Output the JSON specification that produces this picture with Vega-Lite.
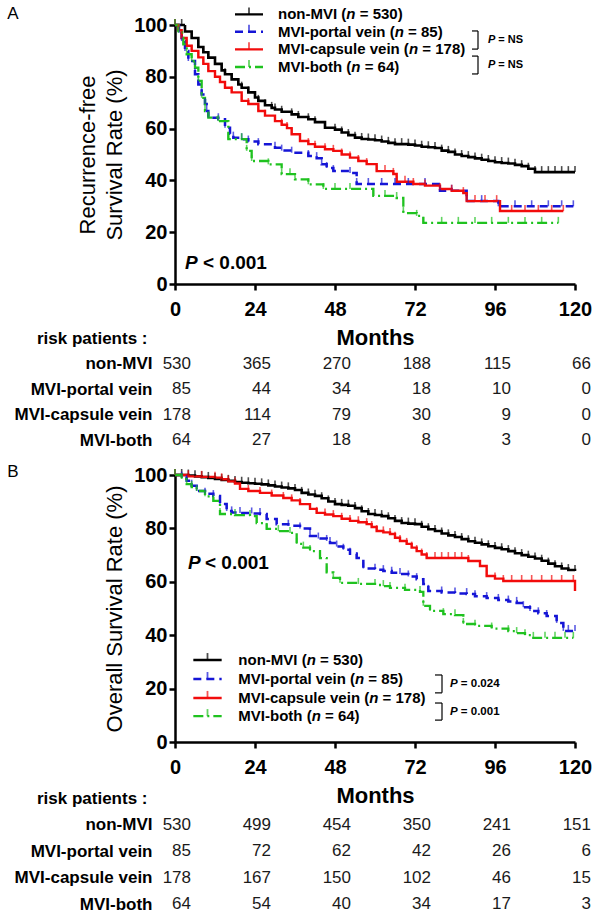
{
  "$schema": "https://vega.github.io/schema/vega-lite/v6.json",
  "background": "white",
  "padding": {"left": 7, "top": 5, "right": 0, "bottom": 0},
  "autosize": {"type": "pad"},
  "bounds": "flush",
  "spacing": 0,
  "config": {
    "font": "Liberation Sans",
    "view": {"stroke": null},
    "axis": {"labelColor": "black", "titleColor": "black", "domainColor": "black", "tickColor": "black", "grid": false}
  },
  "datasets": {
    "kmA": [
      {"g":"non-MVI","m":0,"s":100},{"g":"non-MVI","m":2,"s":100},{"g":"non-MVI","m":3,"s":97.5},{"g":"non-MVI","m":5,"s":95},{"g":"non-MVI","m":7,"s":91.5},{"g":"non-MVI","m":8.5,"s":89.5},{"g":"non-MVI","m":10,"s":87.4},{"g":"non-MVI","m":12,"s":85},{"g":"non-MVI","m":14,"s":82.5},{"g":"non-MVI","m":15,"s":81},{"g":"non-MVI","m":17,"s":79},{"g":"non-MVI","m":19,"s":77},{"g":"non-MVI","m":20,"s":75.8},{"g":"non-MVI","m":22,"s":74},{"g":"non-MVI","m":24,"s":72},{"g":"non-MVI","m":25,"s":70.7},{"g":"non-MVI","m":27,"s":69},{"g":"non-MVI","m":29,"s":68},{"g":"non-MVI","m":30,"s":67.4},{"g":"non-MVI","m":32,"s":66.5},{"g":"non-MVI","m":35,"s":65.5},{"g":"non-MVI","m":37,"s":64.5},{"g":"non-MVI","m":40,"s":63.6},{"g":"non-MVI","m":42,"s":62.5},{"g":"non-MVI","m":45,"s":60.3},{"g":"non-MVI","m":48,"s":59.6},{"g":"non-MVI","m":50,"s":58.5},{"g":"non-MVI","m":52,"s":57.5},{"g":"non-MVI","m":54,"s":56.5},{"g":"non-MVI","m":56,"s":56},{"g":"non-MVI","m":58,"s":55.8},{"g":"non-MVI","m":60,"s":55.5},{"g":"non-MVI","m":62,"s":55},{"g":"non-MVI","m":64,"s":54.5},{"g":"non-MVI","m":66,"s":54},{"g":"non-MVI","m":68,"s":54},{"g":"non-MVI","m":70,"s":53.8},{"g":"non-MVI","m":72,"s":53.5},{"g":"non-MVI","m":74,"s":53},{"g":"non-MVI","m":76,"s":52.8},{"g":"non-MVI","m":78,"s":52.5},{"g":"non-MVI","m":80,"s":51.5},{"g":"non-MVI","m":82,"s":51},{"g":"non-MVI","m":84,"s":50},{"g":"non-MVI","m":86,"s":49.4},{"g":"non-MVI","m":88,"s":49},{"g":"non-MVI","m":90,"s":48.5},{"g":"non-MVI","m":92,"s":48},{"g":"non-MVI","m":94,"s":47.5},{"g":"non-MVI","m":96,"s":47},{"g":"non-MVI","m":98,"s":46.7},{"g":"non-MVI","m":100,"s":46.5},{"g":"non-MVI","m":102,"s":46},{"g":"non-MVI","m":104,"s":45.5},{"g":"non-MVI","m":106,"s":44.5},{"g":"non-MVI","m":108,"s":43.2},{"g":"non-MVI","m":110,"s":43.2},{"g":"non-MVI","m":112,"s":43.2},{"g":"non-MVI","m":114,"s":43.2},{"g":"non-MVI","m":116,"s":43.2},{"g":"non-MVI","m":118,"s":43.2},{"g":"non-MVI","m":120,"s":43.2},
      {"g":"MVI-portal vein","m":0,"s":100},{"g":"MVI-portal vein","m":1.2,"s":97},{"g":"MVI-portal vein","m":2,"s":93.8},{"g":"MVI-portal vein","m":3,"s":90},{"g":"MVI-portal vein","m":4,"s":86.1},{"g":"MVI-portal vein","m":6,"s":81},{"g":"MVI-portal vein","m":7,"s":77},{"g":"MVI-portal vein","m":8,"s":73.2},{"g":"MVI-portal vein","m":9,"s":69.5},{"g":"MVI-portal vein","m":9.5,"s":66.8},{"g":"MVI-portal vein","m":10,"s":64.2},{"g":"MVI-portal vein","m":13,"s":63.6},{"g":"MVI-portal vein","m":15,"s":60.3},{"g":"MVI-portal vein","m":16.5,"s":58},{"g":"MVI-portal vein","m":17.5,"s":56.5},{"g":"MVI-portal vein","m":20,"s":55.9},{"g":"MVI-portal vein","m":22,"s":55},{"g":"MVI-portal vein","m":25,"s":54},{"g":"MVI-portal vein","m":30,"s":52.6},{"g":"MVI-portal vein","m":32,"s":51.5},{"g":"MVI-portal vein","m":35,"s":50.7},{"g":"MVI-portal vein","m":40,"s":49.4},{"g":"MVI-portal vein","m":42.5,"s":48.6},{"g":"MVI-portal vein","m":44,"s":46.2},{"g":"MVI-portal vein","m":45.5,"s":44.8},{"g":"MVI-portal vein","m":47.5,"s":43.6},{"g":"MVI-portal vein","m":52.5,"s":42.9},{"g":"MVI-portal vein","m":54.5,"s":38.6},{"g":"MVI-portal vein","m":58,"s":38.6},{"g":"MVI-portal vein","m":62,"s":38.6},{"g":"MVI-portal vein","m":66,"s":38.6},{"g":"MVI-portal vein","m":70,"s":38.6},{"g":"MVI-portal vein","m":75,"s":38.6},{"g":"MVI-portal vein","m":79.5,"s":36},{"g":"MVI-portal vein","m":83,"s":36},{"g":"MVI-portal vein","m":87.5,"s":32},{"g":"MVI-portal vein","m":92,"s":32},{"g":"MVI-portal vein","m":97,"s":30},{"g":"MVI-portal vein","m":102,"s":30},{"g":"MVI-portal vein","m":107,"s":30},{"g":"MVI-portal vein","m":112,"s":30},{"g":"MVI-portal vein","m":116,"s":30},{"g":"MVI-portal vein","m":119.5,"s":30},
      {"g":"MVI-capsule vein","m":0,"s":100},{"g":"MVI-capsule vein","m":1,"s":98},{"g":"MVI-capsule vein","m":2,"s":95},{"g":"MVI-capsule vein","m":3.5,"s":92},{"g":"MVI-capsule vein","m":5,"s":90},{"g":"MVI-capsule vein","m":7,"s":87.5},{"g":"MVI-capsule vein","m":8.5,"s":85},{"g":"MVI-capsule vein","m":10,"s":82.2},{"g":"MVI-capsule vein","m":12,"s":80},{"g":"MVI-capsule vein","m":13.5,"s":78},{"g":"MVI-capsule vein","m":15,"s":75.8},{"g":"MVI-capsule vein","m":17,"s":74},{"g":"MVI-capsule vein","m":20,"s":70.7},{"g":"MVI-capsule vein","m":22,"s":69.5},{"g":"MVI-capsule vein","m":25,"s":66.8},{"g":"MVI-capsule vein","m":27,"s":65},{"g":"MVI-capsule vein","m":30,"s":62.9},{"g":"MVI-capsule vein","m":32,"s":61.5},{"g":"MVI-capsule vein","m":33.6,"s":60.2},{"g":"MVI-capsule vein","m":35,"s":57.8},{"g":"MVI-capsule vein","m":37.5,"s":55.2},{"g":"MVI-capsule vein","m":40,"s":54},{"g":"MVI-capsule vein","m":42,"s":53},{"g":"MVI-capsule vein","m":45,"s":52},{"g":"MVI-capsule vein","m":47.5,"s":51.4},{"g":"MVI-capsule vein","m":50,"s":50},{"g":"MVI-capsule vein","m":52.5,"s":48.8},{"g":"MVI-capsule vein","m":55,"s":47.5},{"g":"MVI-capsule vein","m":57.5,"s":46.3},{"g":"MVI-capsule vein","m":60.5,"s":43.6},{"g":"MVI-capsule vein","m":63,"s":43.6},{"g":"MVI-capsule vein","m":65.5,"s":42.5},{"g":"MVI-capsule vein","m":66.5,"s":39.5},{"g":"MVI-capsule vein","m":69,"s":39.5},{"g":"MVI-capsule vein","m":71.5,"s":38.6},{"g":"MVI-capsule vein","m":75,"s":38},{"g":"MVI-capsule vein","m":79.5,"s":36.7},{"g":"MVI-capsule vein","m":83,"s":36},{"g":"MVI-capsule vein","m":86.5,"s":35.1},{"g":"MVI-capsule vein","m":87.5,"s":32},{"g":"MVI-capsule vein","m":90,"s":32},{"g":"MVI-capsule vein","m":93,"s":32},{"g":"MVI-capsule vein","m":96.5,"s":32},{"g":"MVI-capsule vein","m":97.5,"s":28.2},{"g":"MVI-capsule vein","m":101,"s":28.2},{"g":"MVI-capsule vein","m":105,"s":28.2},{"g":"MVI-capsule vein","m":109,"s":28.2},{"g":"MVI-capsule vein","m":113,"s":28.2},{"g":"MVI-capsule vein","m":116.5,"s":28.2},
      {"g":"MVI-both","m":0,"s":100},{"g":"MVI-both","m":1,"s":97},{"g":"MVI-both","m":2.5,"s":92.5},{"g":"MVI-both","m":3.5,"s":88.7},{"g":"MVI-both","m":5,"s":86},{"g":"MVI-both","m":6,"s":83.5},{"g":"MVI-both","m":7,"s":78.4},{"g":"MVI-both","m":8,"s":71.9},{"g":"MVI-both","m":9,"s":66.8},{"g":"MVI-both","m":10,"s":64.2},{"g":"MVI-both","m":13,"s":62.9},{"g":"MVI-both","m":16,"s":55.9},{"g":"MVI-both","m":20,"s":55.9},{"g":"MVI-both","m":21.5,"s":51.4},{"g":"MVI-both","m":23,"s":47.5},{"g":"MVI-both","m":28,"s":46.2},{"g":"MVI-both","m":32,"s":42.4},{"g":"MVI-both","m":34.5,"s":42.4},{"g":"MVI-both","m":36,"s":40.4},{"g":"MVI-both","m":40,"s":38.5},{"g":"MVI-both","m":44.5,"s":36.7},{"g":"MVI-both","m":48,"s":36.7},{"g":"MVI-both","m":52.5,"s":36.7},{"g":"MVI-both","m":59.5,"s":34},{"g":"MVI-both","m":63,"s":34},{"g":"MVI-both","m":66.5,"s":33.2},{"g":"MVI-both","m":68.5,"s":27.4},{"g":"MVI-both","m":72.5,"s":26.3},{"g":"MVI-both","m":74.5,"s":23.6},{"g":"MVI-both","m":80,"s":23.6},{"g":"MVI-both","m":85,"s":23.6},{"g":"MVI-both","m":90,"s":23.6},{"g":"MVI-both","m":95,"s":23.6},{"g":"MVI-both","m":100,"s":23.6},{"g":"MVI-both","m":105,"s":23.6},{"g":"MVI-both","m":110,"s":23.6},{"g":"MVI-both","m":115,"s":23.6}
    ],
    "kmB": [
      {"g":"non-MVI","m":0,"s":100},{"g":"non-MVI","m":2,"s":100},{"g":"non-MVI","m":4,"s":99.8},{"g":"non-MVI","m":6,"s":99.5},{"g":"non-MVI","m":8,"s":99.2},{"g":"non-MVI","m":10,"s":98.9},{"g":"non-MVI","m":12,"s":98.5},{"g":"non-MVI","m":14,"s":98.1},{"g":"non-MVI","m":16,"s":97.8},{"g":"non-MVI","m":18,"s":97.4},{"g":"non-MVI","m":20,"s":97.1},{"g":"non-MVI","m":22,"s":96.9},{"g":"non-MVI","m":24,"s":96.7},{"g":"non-MVI","m":26,"s":96.5},{"g":"non-MVI","m":28,"s":96.1},{"g":"non-MVI","m":30,"s":95.7},{"g":"non-MVI","m":32,"s":95.3},{"g":"non-MVI","m":34,"s":95},{"g":"non-MVI","m":36,"s":94.4},{"g":"non-MVI","m":38,"s":93.3},{"g":"non-MVI","m":40,"s":92.7},{"g":"non-MVI","m":42,"s":92.2},{"g":"non-MVI","m":44,"s":91.3},{"g":"non-MVI","m":46,"s":90.1},{"g":"non-MVI","m":48,"s":89.1},{"g":"non-MVI","m":50,"s":88.8},{"g":"non-MVI","m":52,"s":88.5},{"g":"non-MVI","m":54,"s":87.6},{"g":"non-MVI","m":56,"s":86.4},{"g":"non-MVI","m":58,"s":85.4},{"g":"non-MVI","m":60,"s":85},{"g":"non-MVI","m":62,"s":84.6},{"g":"non-MVI","m":64,"s":83.8},{"g":"non-MVI","m":66,"s":82.8},{"g":"non-MVI","m":68,"s":82},{"g":"non-MVI","m":70,"s":81.8},{"g":"non-MVI","m":72,"s":81.6},{"g":"non-MVI","m":74,"s":80.6},{"g":"non-MVI","m":76,"s":79.7},{"g":"non-MVI","m":78,"s":79},{"g":"non-MVI","m":80,"s":78.1},{"g":"non-MVI","m":82,"s":77.4},{"g":"non-MVI","m":84,"s":76.8},{"g":"non-MVI","m":86,"s":76},{"g":"non-MVI","m":88,"s":75.2},{"g":"non-MVI","m":90,"s":74.6},{"g":"non-MVI","m":92,"s":74},{"g":"non-MVI","m":94,"s":73.3},{"g":"non-MVI","m":96,"s":72.7},{"g":"non-MVI","m":98,"s":72.2},{"g":"non-MVI","m":100,"s":71.5},{"g":"non-MVI","m":102,"s":70.7},{"g":"non-MVI","m":104,"s":70},{"g":"non-MVI","m":106,"s":69.4},{"g":"non-MVI","m":108,"s":68.7},{"g":"non-MVI","m":110,"s":67.9},{"g":"non-MVI","m":112,"s":66.8},{"g":"non-MVI","m":114,"s":65.8},{"g":"non-MVI","m":116,"s":65},{"g":"non-MVI","m":118,"s":64.4},{"g":"non-MVI","m":120,"s":64},
      {"g":"MVI-portal vein","m":0,"s":100},{"g":"MVI-portal vein","m":2,"s":99},{"g":"MVI-portal vein","m":3.5,"s":97.8},{"g":"MVI-portal vein","m":5,"s":96},{"g":"MVI-portal vein","m":6.5,"s":94},{"g":"MVI-portal vein","m":9,"s":93},{"g":"MVI-portal vein","m":11.5,"s":92.1},{"g":"MVI-portal vein","m":13.5,"s":89.1},{"g":"MVI-portal vein","m":15.5,"s":86.5},{"g":"MVI-portal vein","m":17,"s":86},{"g":"MVI-portal vein","m":19.5,"s":85.8},{"g":"MVI-portal vein","m":23,"s":85.6},{"g":"MVI-portal vein","m":25.5,"s":85.4},{"g":"MVI-portal vein","m":27.5,"s":83.5},{"g":"MVI-portal vein","m":30.5,"s":81.6},{"g":"MVI-portal vein","m":34,"s":81},{"g":"MVI-portal vein","m":37.5,"s":80},{"g":"MVI-portal vein","m":40.5,"s":77.2},{"g":"MVI-portal vein","m":43,"s":76.2},{"g":"MVI-portal vein","m":45.5,"s":75.3},{"g":"MVI-portal vein","m":46.5,"s":74.5},{"g":"MVI-portal vein","m":48.5,"s":73.2},{"g":"MVI-portal vein","m":50.5,"s":72},{"g":"MVI-portal vein","m":52.5,"s":70.5},{"g":"MVI-portal vein","m":54.5,"s":68.9},{"g":"MVI-portal vein","m":56.5,"s":65},{"g":"MVI-portal vein","m":60,"s":64.5},{"g":"MVI-portal vein","m":62.5,"s":64},{"g":"MVI-portal vein","m":65,"s":63.4},{"g":"MVI-portal vein","m":67.5,"s":62.9},{"g":"MVI-portal vein","m":70,"s":62},{"g":"MVI-portal vein","m":72.5,"s":61},{"g":"MVI-portal vein","m":74.5,"s":59.2},{"g":"MVI-portal vein","m":76,"s":56.6},{"g":"MVI-portal vein","m":80,"s":56},{"g":"MVI-portal vein","m":84,"s":55.6},{"g":"MVI-portal vein","m":87.5,"s":55.4},{"g":"MVI-portal vein","m":90,"s":54.6},{"g":"MVI-portal vein","m":93.5,"s":53.9},{"g":"MVI-portal vein","m":97,"s":53.2},{"g":"MVI-portal vein","m":100,"s":52.6},{"g":"MVI-portal vein","m":102.5,"s":52.1},{"g":"MVI-portal vein","m":104.5,"s":50.5},{"g":"MVI-portal vein","m":106.5,"s":49.1},{"g":"MVI-portal vein","m":109,"s":48.2},{"g":"MVI-portal vein","m":111.5,"s":47.2},{"g":"MVI-portal vein","m":114.5,"s":44.6},{"g":"MVI-portal vein","m":116.5,"s":41.6},{"g":"MVI-portal vein","m":118,"s":41.6},{"g":"MVI-portal vein","m":120,"s":41.6},
      {"g":"MVI-capsule vein","m":0,"s":100},{"g":"MVI-capsule vein","m":4,"s":99.5},{"g":"MVI-capsule vein","m":8,"s":99.3},{"g":"MVI-capsule vein","m":12,"s":99},{"g":"MVI-capsule vein","m":14,"s":98.4},{"g":"MVI-capsule vein","m":16,"s":97.6},{"g":"MVI-capsule vein","m":18,"s":96.8},{"g":"MVI-capsule vein","m":19.5,"s":94.8},{"g":"MVI-capsule vein","m":22,"s":94},{"g":"MVI-capsule vein","m":25.5,"s":93.3},{"g":"MVI-capsule vein","m":29,"s":92.3},{"g":"MVI-capsule vein","m":32.5,"s":91.4},{"g":"MVI-capsule vein","m":35,"s":90.5},{"g":"MVI-capsule vein","m":37.5,"s":89.1},{"g":"MVI-capsule vein","m":40.5,"s":87.3},{"g":"MVI-capsule vein","m":42.5,"s":85.8},{"g":"MVI-capsule vein","m":45,"s":85.2},{"g":"MVI-capsule vein","m":47.5,"s":84.6},{"g":"MVI-capsule vein","m":50,"s":83.6},{"g":"MVI-capsule vein","m":52.5,"s":82.8},{"g":"MVI-capsule vein","m":55,"s":82.3},{"g":"MVI-capsule vein","m":57.5,"s":81.6},{"g":"MVI-capsule vein","m":59,"s":80.5},{"g":"MVI-capsule vein","m":60.5,"s":79},{"g":"MVI-capsule vein","m":62.5,"s":78.5},{"g":"MVI-capsule vein","m":64.5,"s":77.9},{"g":"MVI-capsule vein","m":66,"s":76.5},{"g":"MVI-capsule vein","m":67.5,"s":75.3},{"g":"MVI-capsule vein","m":69.5,"s":74.2},{"g":"MVI-capsule vein","m":71,"s":72.8},{"g":"MVI-capsule vein","m":72.5,"s":71.5},{"g":"MVI-capsule vein","m":74,"s":70.2},{"g":"MVI-capsule vein","m":75.5,"s":68.9},{"g":"MVI-capsule vein","m":78,"s":68.9},{"g":"MVI-capsule vein","m":80,"s":68.9},{"g":"MVI-capsule vein","m":82,"s":68.9},{"g":"MVI-capsule vein","m":84,"s":68.9},{"g":"MVI-capsule vein","m":86,"s":68.9},{"g":"MVI-capsule vein","m":88,"s":67.8},{"g":"MVI-capsule vein","m":91.5,"s":65.9},{"g":"MVI-capsule vein","m":93.5,"s":62.2},{"g":"MVI-capsule vein","m":96,"s":61.2},{"g":"MVI-capsule vein","m":98.5,"s":60.3},{"g":"MVI-capsule vein","m":101,"s":60.3},{"g":"MVI-capsule vein","m":104,"s":60.3},{"g":"MVI-capsule vein","m":107,"s":60.3},{"g":"MVI-capsule vein","m":110,"s":60.3},{"g":"MVI-capsule vein","m":113,"s":60.3},{"g":"MVI-capsule vein","m":116,"s":60.3},{"g":"MVI-capsule vein","m":119.5,"s":60.3},{"g":"MVI-capsule vein","m":120,"s":56.6},
      {"g":"MVI-both","m":0,"s":100},{"g":"MVI-both","m":2,"s":98.5},{"g":"MVI-both","m":3.5,"s":96.6},{"g":"MVI-both","m":5,"s":95.5},{"g":"MVI-both","m":6.5,"s":94},{"g":"MVI-both","m":9,"s":92},{"g":"MVI-both","m":11.5,"s":90.3},{"g":"MVI-both","m":13.5,"s":85.4},{"g":"MVI-both","m":18,"s":85},{"g":"MVI-both","m":22.5,"s":84.6},{"g":"MVI-both","m":24.5,"s":82},{"g":"MVI-both","m":27.5,"s":79.8},{"g":"MVI-both","m":31,"s":79},{"g":"MVI-both","m":34.5,"s":78.3},{"g":"MVI-both","m":36.5,"s":74.2},{"g":"MVI-both","m":38.5,"s":72.8},{"g":"MVI-both","m":40.5,"s":71.5},{"g":"MVI-both","m":43.5,"s":68.9},{"g":"MVI-both","m":45.5,"s":63.5},{"g":"MVI-both","m":47.5,"s":61.5},{"g":"MVI-both","m":49.5,"s":59.6},{"g":"MVI-both","m":55,"s":59.2},{"g":"MVI-both","m":60,"s":58.8},{"g":"MVI-both","m":62.5,"s":58.4},{"g":"MVI-both","m":64.5,"s":57.7},{"g":"MVI-both","m":69,"s":57},{"g":"MVI-both","m":73.5,"s":56.2},{"g":"MVI-both","m":74.5,"s":51},{"g":"MVI-both","m":76.5,"s":49.1},{"g":"MVI-both","m":80.5,"s":47.9},{"g":"MVI-both","m":84,"s":47.5},{"g":"MVI-both","m":86.5,"s":44.2},{"g":"MVI-both","m":90,"s":43.5},{"g":"MVI-both","m":95,"s":42.5},{"g":"MVI-both","m":100,"s":41.5},{"g":"MVI-both","m":102.5,"s":40.8},{"g":"MVI-both","m":105,"s":40},{"g":"MVI-both","m":107.5,"s":39},{"g":"MVI-both","m":111,"s":39},{"g":"MVI-both","m":114,"s":39},{"g":"MVI-both","m":117,"s":39},{"g":"MVI-both","m":119.5,"s":39}
    ],
    "annA": [
      {"k":"lab","t":"A","m":-48.6,"s":104.2},
      {"k":"ll","g":"non-MVI","m":18,"m2":26.4,"s":104.1},
      {"k":"ll","g":"MVI-portal vein","m":18,"m2":26.4,"s":97.4},
      {"k":"ll","g":"MVI-capsule vein","m":18,"m2":26.4,"s":90.6},
      {"k":"ll","g":"MVI-both","m":18,"m2":26.4,"s":83.8},
      {"k":"lk","g":"non-MVI","m":22.2,"s":104.1},
      {"k":"lk","g":"MVI-portal vein","m":22.2,"s":97.4},
      {"k":"lk","g":"MVI-capsule vein","m":22.2,"s":90.6},
      {"k":"lk","g":"MVI-both","m":22.2,"s":83.8},
      {"k":"lt","t":"non-MVI (","m":30.9,"s":104.1},
      {"k":"li","t":"n","m":51.4,"s":104.1},
      {"k":"lt","t":"= 530)","m":55.41,"s":104.1},
      {"k":"lt","t":"MVI-portal vein (","m":30.9,"s":97.4},
      {"k":"li","t":"n","m":65.9,"s":97.4},
      {"k":"lt","t":"= 85)","m":69.91,"s":97.4},
      {"k":"lt","t":"MVI-capsule vein (","m":30.9,"s":90.6},
      {"k":"li","t":"n","m":70.17,"s":90.6},
      {"k":"lt","t":"= 178)","m":74.18,"s":90.6},
      {"k":"lt","t":"MVI-both (","m":30.9,"s":83.8},
      {"k":"li","t":"n","m":52.89,"s":83.8},
      {"k":"lt","t":"= 64)","m":56.9,"s":83.8},
      {"k":"br","m":89.1,"m2":90.9,"s":97.7,"s2":97.7},
      {"k":"br","m":90.9,"m2":90.9,"s":97.7,"s2":90.7},
      {"k":"br","m":89.1,"m2":90.9,"s":90.7,"s2":90.7},
      {"k":"br","m":89.1,"m2":90.9,"s":88.0,"s2":88.0},
      {"k":"br","m":90.9,"m2":90.9,"s":88.0,"s2":81.1},
      {"k":"br","m":89.1,"m2":90.9,"s":81.1,"s2":81.1},
      {"k":"pi","t":"P","m":93.9,"s":94.2},
      {"k":"pr","t":"= NS","m":97.0,"s":94.2},
      {"k":"pi","t":"P","m":93.9,"s":84.6},
      {"k":"pr","t":"= NS","m":97.0,"s":84.6},
      {"k":"Pi","t":"P","m":3.0,"s":8.1},
      {"k":"Pr","t":"< 0.001","m":8.4,"s":8.1}
    ],
    "annB": [
      {"k":"lab","t":"B","m":-48.6,"s":101.1},
      {"k":"ll","g":"non-MVI","m":5.5,"m2":14.0,"s":30.7},
      {"k":"ll","g":"MVI-portal vein","m":5.5,"m2":14.0,"s":23.6},
      {"k":"ll","g":"MVI-capsule vein","m":5.5,"m2":14.0,"s":16.5},
      {"k":"ll","g":"MVI-both","m":5.5,"m2":14.0,"s":9.7},
      {"k":"lk","g":"non-MVI","m":9.75,"s":30.7},
      {"k":"lk","g":"MVI-portal vein","m":9.75,"s":23.6},
      {"k":"lk","g":"MVI-capsule vein","m":9.75,"s":16.5},
      {"k":"lk","g":"MVI-both","m":9.75,"s":9.7},
      {"k":"lt","t":"non-MVI (","m":19.0,"s":30.7},
      {"k":"li","t":"n","m":39.5,"s":30.7},
      {"k":"lt","t":"= 530)","m":43.51,"s":30.7},
      {"k":"lt","t":"MVI-portal vein (","m":19.0,"s":23.6},
      {"k":"li","t":"n","m":54.0,"s":23.6},
      {"k":"lt","t":"= 85)","m":58.01,"s":23.6},
      {"k":"lt","t":"MVI-capsule vein (","m":19.0,"s":16.5},
      {"k":"li","t":"n","m":58.27,"s":16.5},
      {"k":"lt","t":"= 178)","m":62.28,"s":16.5},
      {"k":"lt","t":"MVI-both (","m":19.0,"s":9.7},
      {"k":"li","t":"n","m":40.99,"s":9.7},
      {"k":"lt","t":"= 64)","m":45.0,"s":9.7},
      {"k":"br","m":78.0,"m2":80.1,"s":25.1,"s2":25.1},
      {"k":"br","m":80.1,"m2":80.1,"s":25.1,"s2":18.4},
      {"k":"br","m":78.0,"m2":80.1,"s":18.4,"s2":18.4},
      {"k":"br","m":78.0,"m2":80.1,"s":14.6,"s2":14.6},
      {"k":"br","m":80.1,"m2":80.1,"s":14.6,"s2":8.2},
      {"k":"br","m":78.0,"m2":80.1,"s":8.2,"s2":8.2},
      {"k":"pi","t":"P","m":82.5,"s":21.7},
      {"k":"pr","t":"= 0.024","m":85.76,"s":21.7},
      {"k":"pi","t":"P","m":82.5,"s":11.4},
      {"k":"pr","t":"= 0.001","m":85.76,"s":11.4},
      {"k":"Pi","t":"P","m":3.9,"s":67},
      {"k":"Pr","t":"< 0.001","m":9.0,"s":67}
    ],
    "riskA": [
      {"g":"non-MVI","m":0,"n":530},{"g":"non-MVI","m":24,"n":365},{"g":"non-MVI","m":48,"n":270},{"g":"non-MVI","m":72,"n":188},{"g":"non-MVI","m":96,"n":115},{"g":"non-MVI","m":120,"n":66},
      {"g":"MVI-portal vein","m":0,"n":85},{"g":"MVI-portal vein","m":24,"n":44},{"g":"MVI-portal vein","m":48,"n":34},{"g":"MVI-portal vein","m":72,"n":18},{"g":"MVI-portal vein","m":96,"n":10},{"g":"MVI-portal vein","m":120,"n":0},
      {"g":"MVI-capsule vein","m":0,"n":178},{"g":"MVI-capsule vein","m":24,"n":114},{"g":"MVI-capsule vein","m":48,"n":79},{"g":"MVI-capsule vein","m":72,"n":30},{"g":"MVI-capsule vein","m":96,"n":9},{"g":"MVI-capsule vein","m":120,"n":0},
      {"g":"MVI-both","m":0,"n":64},{"g":"MVI-both","m":24,"n":27},{"g":"MVI-both","m":48,"n":18},{"g":"MVI-both","m":72,"n":8},{"g":"MVI-both","m":96,"n":3},{"g":"MVI-both","m":120,"n":0}
    ],
    "riskB": [
      {"g":"non-MVI","m":0,"n":530},{"g":"non-MVI","m":24,"n":499},{"g":"non-MVI","m":48,"n":454},{"g":"non-MVI","m":72,"n":350},{"g":"non-MVI","m":96,"n":241},{"g":"non-MVI","m":120,"n":151},
      {"g":"MVI-portal vein","m":0,"n":85},{"g":"MVI-portal vein","m":24,"n":72},{"g":"MVI-portal vein","m":48,"n":62},{"g":"MVI-portal vein","m":72,"n":42},{"g":"MVI-portal vein","m":96,"n":26},{"g":"MVI-portal vein","m":120,"n":6},
      {"g":"MVI-capsule vein","m":0,"n":178},{"g":"MVI-capsule vein","m":24,"n":167},{"g":"MVI-capsule vein","m":48,"n":150},{"g":"MVI-capsule vein","m":72,"n":102},{"g":"MVI-capsule vein","m":96,"n":46},{"g":"MVI-capsule vein","m":120,"n":15},
      {"g":"MVI-both","m":0,"n":64},{"g":"MVI-both","m":24,"n":54},{"g":"MVI-both","m":48,"n":40},{"g":"MVI-both","m":72,"n":34},{"g":"MVI-both","m":96,"n":17},{"g":"MVI-both","m":120,"n":3}
    ]
  },
  "vconcat": [
    {
      "width": 400, "height": 259,
      "encoding": {
        "x": {"field": "m", "type": "quantitative", "scale": {"domain": [0, 120], "nice": false, "zero": false},
              "axis": {"values": [0, 24, 48, 72, 96, 120], "title": "Months", "titleFontSize": 22, "titleFontWeight": "bold", "titlePadding": 8,
                       "labelFontSize": 20, "labelFontWeight": "bold", "labelPadding": 9, "labelFlush": false, "labelOverlap": false,
                       "tickSize": 6, "tickWidth": 2.5, "domainWidth": 2.5}},
        "y": {"field": "s", "type": "quantitative", "scale": {"domain": [0, 100], "nice": false},
              "axis": {"values": [0, 20, 40, 60, 80, 100], "title": ["Recurrence-free", "Survival Rate (%)"], "titleFontSize": 22, "titleFontWeight": "normal",
                       "titlePadding": 7, "titleLineHeight": 27, "labelFontSize": 20, "labelFontWeight": "bold", "labelPadding": 2, "labelFlush": false, "labelOverlap": false,
                       "tickSize": 6, "tickWidth": 2.5, "domainWidth": 2.5}}
      },
      "layer": [
        {"data": {"name": "kmA"}, "mark": {"type": "line", "interpolate": "step-after"},
         "encoding": {
           "color": {"field": "g", "type": "nominal", "scale": {"domain": ["non-MVI", "MVI-portal vein", "MVI-capsule vein", "MVI-both"], "range": ["#000000", "#1515d6", "#f20c0c", "#1fc21f"]}, "legend": null},
           "strokeDash": {"field": "g", "type": "nominal", "scale": {"domain": ["non-MVI", "MVI-portal vein", "MVI-capsule vein", "MVI-both"], "range": [[1, 0], [8, 5], [1, 0], [10, 4, 2, 4]]}, "legend": null},
           "size": {"field": "g", "type": "nominal", "scale": {"domain": ["non-MVI", "MVI-portal vein", "MVI-capsule vein", "MVI-both"], "range": [2.6, 2.3, 2.3, 2.3]}, "legend": null}}},
        {"data": {"name": "kmA"}, "mark": {"type": "tick", "orient": "vertical", "size": 6, "thickness": 1.6, "yOffset": -3},
         "encoding": {"color": {"field": "g", "type": "nominal", "legend": null}}},
        {"data": {"name": "annA"}, "transform": [{"filter": "datum.k === 'll'"}], "mark": {"type": "rule", "strokeWidth": 2.4},
         "encoding": {"x2": {"field": "m2"}, "color": {"field": "g", "type": "nominal", "legend": null}, "strokeDash": {"field": "g", "type": "nominal", "legend": null}}},
        {"data": {"name": "annA"}, "transform": [{"filter": "datum.k === 'lk'"}], "mark": {"type": "tick", "orient": "vertical", "size": 7, "thickness": 1.8, "yOffset": -3.5},
         "encoding": {"color": {"field": "g", "type": "nominal", "legend": null}}},
        {"data": {"name": "annA"}, "transform": [{"filter": "datum.k === 'br'"}], "mark": {"type": "rule", "strokeWidth": 1.2, "color": "black"},
         "encoding": {"x2": {"field": "m2"}, "y2": {"field": "s2"}}},
        {"data": {"name": "annA"}, "transform": [{"filter": "datum.k === 'lt'"}], "mark": {"type": "text", "align": "left", "baseline": "middle", "fontSize": 15, "fontWeight": "bold", "color": "black"},
         "encoding": {"text": {"field": "t"}}},
        {"data": {"name": "annA"}, "transform": [{"filter": "datum.k === 'li'"}], "mark": {"type": "text", "align": "left", "baseline": "middle", "fontSize": 15, "fontWeight": "bold", "fontStyle": "italic", "color": "black"},
         "encoding": {"text": {"field": "t"}}},
        {"data": {"name": "annA"}, "transform": [{"filter": "datum.k === 'pi'"}], "mark": {"type": "text", "align": "left", "baseline": "middle", "fontSize": 11, "fontWeight": "bold", "fontStyle": "italic", "color": "black"},
         "encoding": {"text": {"field": "t"}}},
        {"data": {"name": "annA"}, "transform": [{"filter": "datum.k === 'pr'"}], "mark": {"type": "text", "align": "left", "baseline": "middle", "fontSize": 11, "fontWeight": "bold", "color": "black"},
         "encoding": {"text": {"field": "t"}}},
        {"data": {"name": "annA"}, "transform": [{"filter": "datum.k === 'Pi'"}], "mark": {"type": "text", "align": "left", "baseline": "middle", "fontSize": 19, "fontWeight": "bold", "fontStyle": "italic", "color": "black"},
         "encoding": {"text": {"field": "t"}}},
        {"data": {"name": "annA"}, "transform": [{"filter": "datum.k === 'Pr'"}], "mark": {"type": "text", "align": "left", "baseline": "middle", "fontSize": 19, "fontWeight": "bold", "color": "black"},
         "encoding": {"text": {"field": "t"}}},
        {"data": {"name": "annA"}, "transform": [{"filter": "datum.k === 'lab'"}], "mark": {"type": "text", "align": "center", "baseline": "middle", "fontSize": 17, "color": "black"},
         "encoding": {"text": {"field": "t"}}}
      ]
    },
    {
      "width": 400, "height": 191,
      "data": {"name": "riskA"},
      "mark": {"type": "text", "align": "right", "baseline": "middle", "dx": 16, "fontSize": 17, "color": "#1a1a1a"},
      "encoding": {
        "x": {"field": "m", "type": "quantitative", "scale": {"domain": [0, 120], "nice": false, "zero": false}, "axis": null},
        "y": {"field": "g", "type": "nominal",
              "scale": {"type": "point", "domain": ["risk patients :", "non-MVI", "MVI-portal vein", "MVI-capsule vein", "MVI-both"], "range": [54, 156], "padding": 0, "round": false},
              "axis": {"title": null, "domain": false, "ticks": false, "tickSize": 0, "labelFontSize": 17, "labelFontWeight": "bold",
                       "labelPadding": {"condition": {"test": "datum.value === 'risk patients :'", "value": 28}, "value": 23}}},
        "text": {"field": "n", "type": "quantitative"}
      }
    },
    {
      "width": 400, "height": 267,
      "encoding": {
        "x": {"field": "m", "type": "quantitative", "scale": {"domain": [0, 120], "nice": false, "zero": false},
              "axis": {"values": [0, 24, 48, 72, 96, 120], "title": "Months", "titleFontSize": 22, "titleFontWeight": "bold", "titlePadding": 8,
                       "labelFontSize": 20, "labelFontWeight": "bold", "labelPadding": 9, "labelFlush": false, "labelOverlap": false,
                       "tickSize": 6, "tickWidth": 2.5, "domainWidth": 2.5}},
        "y": {"field": "s", "type": "quantitative", "scale": {"domain": [0, 100], "nice": false},
              "axis": {"values": [0, 20, 40, 60, 80, 100], "title": "Overall Survival Rate (%)", "titleFontSize": 22, "titleFontWeight": "normal",
                       "titlePadding": 7, "labelFontSize": 20, "labelFontWeight": "bold", "labelPadding": 2, "labelFlush": false, "labelOverlap": false,
                       "tickSize": 6, "tickWidth": 2.5, "domainWidth": 2.5}}
      },
      "layer": [
        {"data": {"name": "kmB"}, "mark": {"type": "line", "interpolate": "step-after"},
         "encoding": {
           "color": {"field": "g", "type": "nominal", "scale": {"domain": ["non-MVI", "MVI-portal vein", "MVI-capsule vein", "MVI-both"], "range": ["#000000", "#1515d6", "#f20c0c", "#1fc21f"]}, "legend": null},
           "strokeDash": {"field": "g", "type": "nominal", "scale": {"domain": ["non-MVI", "MVI-portal vein", "MVI-capsule vein", "MVI-both"], "range": [[1, 0], [8, 5], [1, 0], [10, 4, 2, 4]]}, "legend": null},
           "size": {"field": "g", "type": "nominal", "scale": {"domain": ["non-MVI", "MVI-portal vein", "MVI-capsule vein", "MVI-both"], "range": [2.6, 2.3, 2.3, 2.3]}, "legend": null}}},
        {"data": {"name": "kmB"}, "mark": {"type": "tick", "orient": "vertical", "size": 6, "thickness": 1.6, "yOffset": -3},
         "encoding": {"color": {"field": "g", "type": "nominal", "legend": null}}},
        {"data": {"name": "annB"}, "transform": [{"filter": "datum.k === 'll'"}], "mark": {"type": "rule", "strokeWidth": 2.4},
         "encoding": {"x2": {"field": "m2"}, "color": {"field": "g", "type": "nominal", "legend": null}, "strokeDash": {"field": "g", "type": "nominal", "legend": null}}},
        {"data": {"name": "annB"}, "transform": [{"filter": "datum.k === 'lk'"}], "mark": {"type": "tick", "orient": "vertical", "size": 7, "thickness": 1.8, "yOffset": -3.5},
         "encoding": {"color": {"field": "g", "type": "nominal", "legend": null}}},
        {"data": {"name": "annB"}, "transform": [{"filter": "datum.k === 'br'"}], "mark": {"type": "rule", "strokeWidth": 1.2, "color": "black"},
         "encoding": {"x2": {"field": "m2"}, "y2": {"field": "s2"}}},
        {"data": {"name": "annB"}, "transform": [{"filter": "datum.k === 'lt'"}], "mark": {"type": "text", "align": "left", "baseline": "middle", "fontSize": 15, "fontWeight": "bold", "color": "black"},
         "encoding": {"text": {"field": "t"}}},
        {"data": {"name": "annB"}, "transform": [{"filter": "datum.k === 'li'"}], "mark": {"type": "text", "align": "left", "baseline": "middle", "fontSize": 15, "fontWeight": "bold", "fontStyle": "italic", "color": "black"},
         "encoding": {"text": {"field": "t"}}},
        {"data": {"name": "annB"}, "transform": [{"filter": "datum.k === 'pi'"}], "mark": {"type": "text", "align": "left", "baseline": "middle", "fontSize": 11.5, "fontWeight": "bold", "fontStyle": "italic", "color": "black"},
         "encoding": {"text": {"field": "t"}}},
        {"data": {"name": "annB"}, "transform": [{"filter": "datum.k === 'pr'"}], "mark": {"type": "text", "align": "left", "baseline": "middle", "fontSize": 11.5, "fontWeight": "bold", "color": "black"},
         "encoding": {"text": {"field": "t"}}},
        {"data": {"name": "annB"}, "transform": [{"filter": "datum.k === 'Pi'"}], "mark": {"type": "text", "align": "left", "baseline": "middle", "fontSize": 19, "fontWeight": "bold", "fontStyle": "italic", "color": "black"},
         "encoding": {"text": {"field": "t"}}},
        {"data": {"name": "annB"}, "transform": [{"filter": "datum.k === 'Pr'"}], "mark": {"type": "text", "align": "left", "baseline": "middle", "fontSize": 19, "fontWeight": "bold", "color": "black"},
         "encoding": {"text": {"field": "t"}}},
        {"data": {"name": "annB"}, "transform": [{"filter": "datum.k === 'lab'"}], "mark": {"type": "text", "align": "center", "baseline": "middle", "fontSize": 17, "color": "black"},
         "encoding": {"text": {"field": "t"}}}
      ]
    },
    {
      "width": 400, "height": 174,
      "data": {"name": "riskB"},
      "mark": {"type": "text", "align": "right", "baseline": "middle", "dx": 16, "fontSize": 17, "color": "#1a1a1a"},
      "encoding": {
        "x": {"field": "m", "type": "quantitative", "scale": {"domain": [0, 120], "nice": false, "zero": false}, "axis": null},
        "y": {"field": "g", "type": "nominal",
              "scale": {"type": "point", "domain": ["risk patients :", "non-MVI", "MVI-portal vein", "MVI-capsule vein", "MVI-both"], "range": [56, 162], "padding": 0, "round": false},
              "axis": {"title": null, "domain": false, "ticks": false, "tickSize": 0, "labelFontSize": 17, "labelFontWeight": "bold",
                       "labelPadding": {"condition": {"test": "datum.value === 'risk patients :'", "value": 28}, "value": 23}}},
        "text": {"field": "n", "type": "quantitative"}
      }
    }
  ]
}
